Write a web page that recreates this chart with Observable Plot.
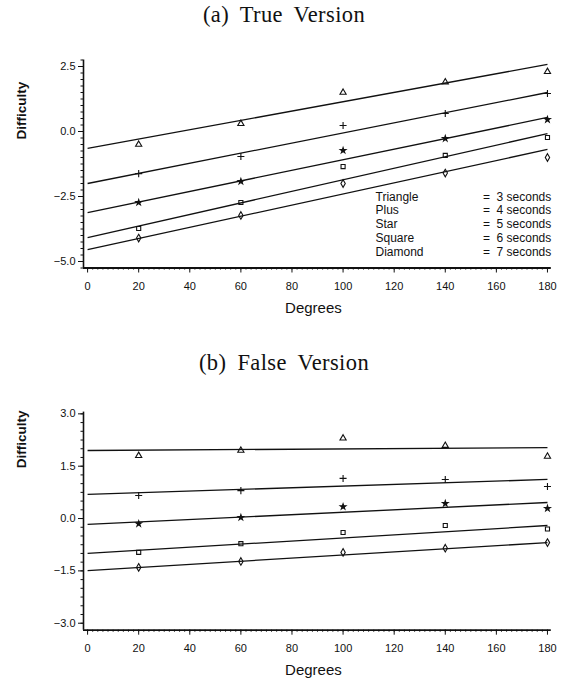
<!DOCTYPE html>
<html><head><meta charset="utf-8">
<script src="https://cdn.jsdelivr.net/npm/d3@7"></script>
<script src="https://cdn.jsdelivr.net/npm/@observablehq/plot@0.6"></script>
<style>
body{margin:0;background:#fff;}
#wrap{position:relative;width:568px;height:684px;background:#fff;overflow:hidden;}
.ttl{position:absolute;left:0;width:568px;text-align:center;font-family:"Liberation Serif","DejaVu Serif",serif;font-size:22.5px;line-height:30px;word-spacing:5px;letter-spacing:0.4px;color:#111;}
#wrap svg{position:absolute;left:0;}
</style></head><body><div id="wrap"></div>
<script>
// ---- data ----
const degrees = [20, 60, 100, 140, 180];
const fitDegrees = [0, 180];
const shapeNames = ["Triangle", "Plus", "Star", "Square", "Diamond"];
const durations = ["3 seconds", "4 seconds", "5 seconds", "6 seconds", "7 seconds"];
const xTicks = [0, 20, 40, 60, 80, 100, 120, 140, 160, 180];

// (a) True Version
const trueTriangle = [-0.5, 0.3, 1.5, 1.9, 2.3];
const truePlus     = [-1.62, -0.96, 0.23, 0.69, 1.46];
const trueStar     = [-2.73, -1.92, -0.73, -0.27, 0.46];
const trueSquare   = [-3.73, -2.73, -1.35, -0.92, -0.23];
const trueDiamond  = [-4.1, -3.23, -2.0, -1.6, -1.0];
const trueFitStart = [-0.65, -2.0, -3.12, -4.08, -4.54];
const trueFitEnd   = [2.58, 1.5, 0.54, -0.08, -0.69];
const trueYTicks   = [2.5, 0.0, -2.5, -5.0];

// (b) False Version
const falseTriangle = [1.8, 1.95, 2.3, 2.09, 1.78];
const falsePlus     = [0.66, 0.8, 1.15, 1.12, 0.92];
const falseStar     = [-0.15, 0.03, 0.34, 0.43, 0.29];
const falseSquare   = [-0.97, -0.72, -0.4, -0.2, -0.3];
const falseDiamond  = [-1.4, -1.23, -0.97, -0.85, -0.69];
const falseFitStart = [1.95, 0.69, -0.17, -1.0, -1.49];
const falseFitEnd   = [2.03, 1.12, 0.46, -0.2, -0.69];
const falseYTicks   = [3.0, 1.5, 0.0, -1.5, -3.0];

const symbols = ["triangle", "plus", "star", "square", "diamond"];
const symbolSize = [2.3, 2.4, 1.8, 2.3, 2.3];
const filled = [false, false, true, false, false];

const FONT = "'Liberation Sans', Arial, sans-serif";
const INK = "#111";

function range(a, b, step) { return d3.range(a, b + step / 2, step); }

function panel({series, fitStart, fitEnd, yTicks, yDomain, top, height, marginTop, marginBottom, labelDy, legend}) {
  const xDomain = [-1.6, 181.5];
  const points = [];
  series.forEach((vals, s) => vals.forEach((v, i) => points.push({deg: degrees[i], val: v, s})));
  const fits = fitStart.map((v, s) => ({s, y1: v, y2: fitEnd[s]}));
  const yMinor = range(Math.ceil(yDomain[0] * 4) / 4, yDomain[1], 0.25);
  const xMinor = range(0, 180, 2);
  const marks = [
    Plot.axisY(yMinor, {tickSize: 2.5, tickFormat: () => "", label: null, stroke: INK}),
    Plot.axisY(yTicks, {tickSize: 5, tickPadding: 3, label: null, fontSize: 11, tickFormat: d3.format(".1f"), stroke: INK, fill: INK, style: {letterSpacing: "1.5px"}}),
    Plot.axisX(xMinor, {tickSize: 2, tickFormat: () => "", label: null, stroke: INK}),
    Plot.axisX(xTicks, {tickSize: 5, tickPadding: 9, label: null, fontSize: 11, stroke: INK, fill: INK}),
    Plot.ruleX([xDomain[0]], {stroke: INK, strokeWidth: 1.6}),
    Plot.ruleY([yDomain[0]], {stroke: INK, strokeWidth: 1.8}),
    Plot.link(fits, {x1: () => fitDegrees[0], x2: () => fitDegrees[1], y1: "y1", y2: "y2", stroke: INK, strokeWidth: 1.3}),
    ...symbols.map((sym, s) => Plot.dot(points.filter(d => d.s === s), {
      x: "deg", y: "val", symbol: sym, r: symbolSize[s],
      stroke: INK, strokeWidth: 1.1, fill: filled[s] ? INK : "none"
    })),
    Plot.text(["Difficulty"], {frameAnchor: "left", rotate: -90, dx: -62, dy: labelDy, fontSize: 13.5, fontWeight: "bold", fill: INK}),
    Plot.text(["Degrees"], {frameAnchor: "bottom", dx: -4, dy: 45, fontSize: 15, fill: INK})
  ];
  if (legend) {
    shapeNames.forEach((name, i) => {
      const dy = -67.5 + 13.9 * i;
      marks.push(Plot.text([name], {frameAnchor: "bottom-left", textAnchor: "start", dx: 292, dy, fontSize: 12, fill: INK, style: {letterSpacing: "0.9px"}}));
      marks.push(Plot.text([durations[i]], {frameAnchor: "bottom-right", textAnchor: "end", dx: 0, dy, text: d => "=  " + d, fontSize: 12, fill: INK, style: {whiteSpace: "pre", letterSpacing: "1.2px"}}));
    });
  }
  const svg = Plot.plot({
    width: 568, height, marginLeft: 83, marginRight: 17.2, marginTop, marginBottom,
    style: {fontFamily: FONT, background: "transparent", color: INK},
    x: {domain: xDomain},
    y: {domain: yDomain},
    marks
  });
  svg.style.top = top + "px";
  return svg;
}

const wrap = document.getElementById("wrap");
const t1 = document.createElement("div"); t1.className = "ttl"; t1.style.top = "0px"; t1.textContent = "(a) True Version";
const t2 = document.createElement("div"); t2.className = "ttl"; t2.style.top = "348px"; t2.textContent = "(b) False Version";

wrap.appendChild(panel({
  series: [trueTriangle, truePlus, trueStar, trueSquare, trueDiamond],
  fitStart: trueFitStart, fitEnd: trueFitEnd, yTicks: trueYTicks,
  yDomain: [-5.25, 2.75], top: 0, height: 330, marginTop: 59.5, marginBottom: 62.5,
  labelDy: -24.5, legend: true
}));
wrap.appendChild(panel({
  series: [falseTriangle, falsePlus, falseStar, falseSquare, falseDiamond],
  fitStart: falseFitStart, fitEnd: falseFitEnd, yTicks: falseYTicks,
  yDomain: [-3.2, 3.05], top: 330, height: 354, marginTop: 81.6, marginBottom: 54.3,
  labelDy: -53, legend: false
}));
wrap.appendChild(t1);
wrap.appendChild(t2);
</script>
</body></html>
